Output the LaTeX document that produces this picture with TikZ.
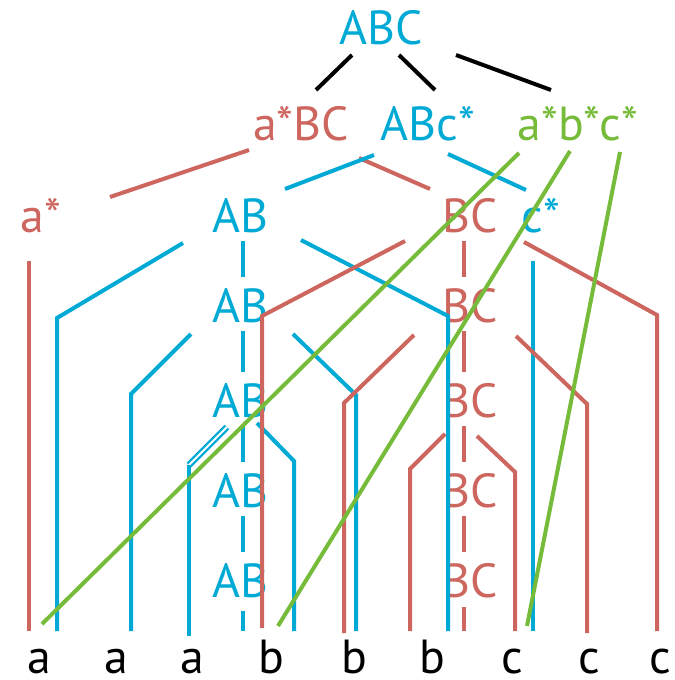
\documentclass[tikz,border=0pt]{standalone}
\usepackage{fontspec}
\setmainfont{PT Sans}
\usepackage{tikz}

\definecolor{abblue}{RGB}{0,170,213}
\definecolor{bcred}{RGB}{205,102,94}
\definecolor{stargreen}{RGB}{118,188,58}

\tikzset{
  lbl/.style={font=\fontsize{48}{48}\selectfont, anchor=base, inner sep=0pt},
  rootline/.style={draw=black},
  abline/.style={draw=abblue},
  bcline/.style={draw=bcred},
  starline/.style={draw=stargreen},
  hollow/.style={double=white, line width=2.2bp, double distance=2bp}
}

\begin{document}
\begin{tikzpicture}[x=1bp, y=-1bp, line width=4bp]
  \useasboundingbox (0,0) rectangle (675,680);

  % labels
  \node[lbl, text=abblue] (abc) at (381,45) {ABC};
  \node[lbl, text=bcred] (astarbc) at (301,140) {a*BC};
  \node[lbl, text=abblue] (abcstar) at (428,140) {ABc*};
  \node[lbl, text=stargreen] (allstar) at (578,140) {a*b*c*};
  \node[lbl, text=bcred] (astar) at (41,232) {a*};
  \node[lbl, text=abblue] (cstar) at (541,232) {c*};
  \foreach \i/\y in {3/232,4/322,5/417,6/507,7/597} {
    \node[lbl, text=abblue] (ab\i) at (240,\y) {AB};
    \node[lbl, text=bcred] (bc\i) at (470,\y) {BC};
  }
  \foreach \n/\x/\t in {1/39/a,2/116/a,3/192/a,4/271/b,5/354/b,6/432/b,7/512/c,8/589/c,9/660/c}
    \node[lbl] (leaf\n) at (\x,673) {\t};

  % first split
  \draw[rootline] ([shift={(-29,10)}]abc.base) -- ([shift={(15,-50)}]astarbc.base);
  \draw[rootline] ([shift={(18,10)}]abc.base) -- ([shift={(7,-50)}]abcstar.base);
  \draw[rootline] ([shift={(75,10)}]abc.base) -- ([shift={(-27,-50)}]allstar.base);

  \draw[bcline] ([shift={(-52,10)}]astarbc.base) -- ([shift={(69,-35)}]astar.base);
  \draw[bcline] ([shift={(58,18)}]astarbc.base) -- ([shift={(-40,-43)}]bc3.base);
  \draw[abline] ([shift={(-54,15)}]abcstar.base) -- ([shift={(45,-43)}]ab3.base);
  \draw[abline] ([shift={(20,14)}]abcstar.base) -- ([shift={(-15,-42)}]cstar.base);

  % AB and BC columns
  \foreach \i/\j in {3/4,4/5,5/6,6/7} {
    \draw[abline] ([shift={(3,9)}]ab\i.base) -- ([shift={(3,-45)}]ab\j.base);
    \draw[bcline] ([shift={(-6,9)}]bc\i.base) -- ([shift={(-6,-45)}]bc\j.base);
  }
  \draw[abline] ([shift={(3,14)}]ab7.base) -- ++(0,20);
  \draw[bcline] ([shift={(-6,10)}]bc7.base) -- ++(0,24);

  % single stars down to the leaves
  \draw[bcline] ([shift={(-12,29)}]astar.base) -- ([shift={(-10,-42)}]leaf1.base);
  \draw[abline] ([shift={(-8,29)}]cstar.base) -- ([shift={(21,-42)}]leaf7.base);

  % branches off the AB column
  \draw[abline] ([shift={(-57,11)}]ab3.base) -- ++(-126,75) -- ([shift={(18,-42)}]leaf1.base);
  \draw[abline] ([shift={(61,8)}]ab3.base) -- ++(147,76) -- ([shift={(16,-42)}]leaf6.base);
  \draw[abline] ([shift={(-49,12)}]ab4.base) -- ++(-60,60) -- ([shift={(15,-42)}]leaf2.base);
  \draw[abline] ([shift={(53,12)}]ab4.base) -- ++(63,61) -- ([shift={(2,-42)}]leaf5.base);
  \draw[abline, hollow] ([shift={(-13,10)}]ab5.base) -- ++(-38,38) coordinate (ab5knee);
  \draw[abline] (ab5knee) -- ([shift={(-3,-37)}]leaf3.base);
  \draw[abline] ([shift={(17,6)}]ab5.base) -- ++(37,38) -- ([shift={(23,-42)}]leaf4.base);

  % branches off the BC column
  \draw[bcline] ([shift={(-65,9)}]bc3.base) -- ++(-143,75) -- ([shift={(-9,-45)}]leaf4.base);
  \draw[bcline] ([shift={(54,10)}]bc3.base) -- ++(133,73) -- ([shift={(-3,-42)}]leaf9.base);
  \draw[bcline] ([shift={(-56,13)}]bc4.base) -- ++(-70,68) -- ([shift={(-10,-40)}]leaf5.base);
  \draw[bcline] ([shift={(46,14)}]bc4.base) -- ++(71,68) -- ([shift={(-2,-40)}]leaf8.base);
  \draw[bcline] ([shift={(-25,17)}]bc5.base) -- ++(-35,35) -- ([shift={(-22,-42)}]leaf6.base);
  \draw[bcline] ([shift={(7,19)}]bc5.base) -- ++(38,36) -- ([shift={(3,-42)}]leaf7.base);

  % a*b*c*
  \draw[starline] ([shift={(-59,13)}]allstar.base) -- ([shift={(3,-49)}]leaf1.base);
  \draw[starline] ([shift={(-8,11)}]allstar.base) -- ([shift={(7,-47)}]leaf4.base);
  \draw[starline] ([shift={(42,12)}]allstar.base) -- ([shift={(15,-47)}]leaf7.base);
\end{tikzpicture}
\end{document}
